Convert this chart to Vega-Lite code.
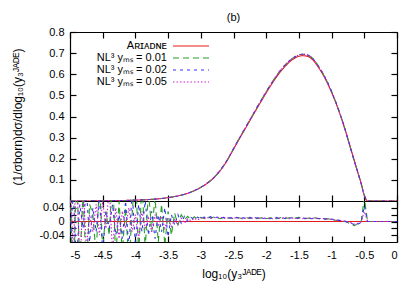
{
  "$schema": "https://vega.github.io/schema/vega-lite/v6.json",
  "padding": {"left": 11, "top": 12, "right": 5, "bottom": 5},
  "spacing": 0,
  "bounds": "flush",
  "config": {
    "font": "Liberation Sans",
    "view": {"stroke": null},
    "axis": {"domainColor": "black", "domainWidth": 1.2, "tickColor": "black", "tickWidth": 1.2, "tickSize": -6, "labelPadding": 11, "labelFontSize": 11, "labelColor": "black", "titleColor": "black", "titleFontSize": 11, "titleFontWeight": "normal", "grid": false, "labelFont": "Liberation Sans", "titleFont": "Liberation Sans"}
  },
  "resolve": {"scale": {"color": "independent", "strokeDash": "independent"}},
  "datasets": {
    "main": [
      {"x": -5.0, "a": 0, "g": 0, "b": 0, "m": 0},
      {"x": -4.9, "a": 0, "g": 0, "b": 0, "m": 0},
      {"x": -4.8, "a": 0.0001, "g": 0.0001, "b": 0.0001, "m": 0.0001},
      {"x": -4.7, "a": 0.0003, "g": 0.0003, "b": 0.0003, "m": 0.0003},
      {"x": -4.6, "a": 0.0005, "g": 0.0005, "b": 0.0005, "m": 0.0005},
      {"x": -4.5, "a": 0.0008, "g": 0.0008, "b": 0.0008, "m": 0.0008},
      {"x": -4.4, "a": 0.0012, "g": 0.0012, "b": 0.0012, "m": 0.0012},
      {"x": -4.3, "a": 0.0017, "g": 0.0017, "b": 0.0017, "m": 0.0017},
      {"x": -4.2, "a": 0.0023, "g": 0.0023, "b": 0.0023, "m": 0.0023},
      {"x": -4.1, "a": 0.003, "g": 0.003, "b": 0.003, "m": 0.003},
      {"x": -4.0, "a": 0.004, "g": 0.004, "b": 0.004, "m": 0.004},
      {"x": -3.9, "a": 0.0052, "g": 0.0052, "b": 0.0052, "m": 0.0052},
      {"x": -3.8, "a": 0.0068, "g": 0.0068, "b": 0.0068, "m": 0.0068},
      {"x": -3.7, "a": 0.009, "g": 0.009, "b": 0.009, "m": 0.009},
      {"x": -3.6, "a": 0.012, "g": 0.012, "b": 0.012, "m": 0.012},
      {"x": -3.5, "a": 0.016, "g": 0.016, "b": 0.016, "m": 0.016},
      {"x": -3.4, "a": 0.021, "g": 0.021, "b": 0.021, "m": 0.021},
      {"x": -3.3, "a": 0.028, "g": 0.028, "b": 0.028, "m": 0.028},
      {"x": -3.2, "a": 0.037, "g": 0.037, "b": 0.037, "m": 0.037},
      {"x": -3.1, "a": 0.049, "g": 0.049, "b": 0.049, "m": 0.049},
      {"x": -3.0, "a": 0.064, "g": 0.065, "b": 0.065, "m": 0.065},
      {"x": -2.9, "a": 0.084, "g": 0.085, "b": 0.085, "m": 0.085},
      {"x": -2.8, "a": 0.110, "g": 0.111, "b": 0.111, "m": 0.111},
      {"x": -2.7, "a": 0.145, "g": 0.146, "b": 0.147, "m": 0.146},
      {"x": -2.6, "a": 0.190, "g": 0.192, "b": 0.192, "m": 0.192},
      {"x": -2.5, "a": 0.245, "g": 0.247, "b": 0.248, "m": 0.247},
      {"x": -2.4, "a": 0.300, "g": 0.303, "b": 0.303, "m": 0.303},
      {"x": -2.3, "a": 0.353, "g": 0.357, "b": 0.356, "m": 0.357},
      {"x": -2.2, "a": 0.407, "g": 0.411, "b": 0.411, "m": 0.411},
      {"x": -2.1, "a": 0.460, "g": 0.465, "b": 0.465, "m": 0.464},
      {"x": -2.0, "a": 0.512, "g": 0.517, "b": 0.517, "m": 0.517},
      {"x": -1.9, "a": 0.561, "g": 0.567, "b": 0.566, "m": 0.566},
      {"x": -1.8, "a": 0.605, "g": 0.611, "b": 0.611, "m": 0.611},
      {"x": -1.7, "a": 0.641, "g": 0.647, "b": 0.647, "m": 0.647},
      {"x": -1.6, "a": 0.669, "g": 0.675, "b": 0.675, "m": 0.675},
      {"x": -1.5, "a": 0.685, "g": 0.692, "b": 0.692, "m": 0.691},
      {"x": -1.45, "a": 0.688, "g": 0.695, "b": 0.695, "m": 0.694},
      {"x": -1.4, "a": 0.687, "g": 0.694, "b": 0.693, "m": 0.694},
      {"x": -1.3, "a": 0.672, "g": 0.678, "b": 0.678, "m": 0.678},
      {"x": -1.2, "a": 0.632, "g": 0.638, "b": 0.638, "m": 0.637},
      {"x": -1.1, "a": 0.580, "g": 0.585, "b": 0.586, "m": 0.585},
      {"x": -1.0, "a": 0.514, "g": 0.518, "b": 0.518, "m": 0.517},
      {"x": -0.9, "a": 0.436, "g": 0.438, "b": 0.438, "m": 0.437},
      {"x": -0.8, "a": 0.344, "g": 0.344, "b": 0.345, "m": 0.344},
      {"x": -0.7, "a": 0.240, "g": 0.238, "b": 0.239, "m": 0.239},
      {"x": -0.6, "a": 0.136, "g": 0.135, "b": 0.135, "m": 0.136},
      {"x": -0.55, "a": 0.085, "g": 0.085, "b": 0.085, "m": 0.085},
      {"x": -0.5, "a": 0.026, "g": 0.028, "b": 0.027, "m": 0.027},
      {"x": -0.45, "a": 0, "g": 0, "b": 0, "m": 0},
      {"x": -0.4, "a": 0, "g": 0, "b": 0, "m": 0},
      {"x": -0.3, "a": 0, "g": 0, "b": 0, "m": 0},
      {"x": -0.2, "a": 0, "g": 0, "b": 0, "m": 0},
      {"x": -0.1, "a": 0, "g": 0, "b": 0, "m": 0},
      {"x": 0.0, "a": 0, "g": 0, "b": 0, "m": 0}
    ],
    "ratio": [
      {"x": -5.0, "a": 0, "g": 0.10, "b": -0.05, "m": 0.15},
      {"x": -4.95, "a": 0, "g": -0.20, "b": 0.08, "m": -0.10},
      {"x": -4.9, "a": 0, "g": 0.15, "b": -0.12, "m": 0.20},
      {"x": -4.85, "a": 0, "g": -0.12, "b": 0.05, "m": -0.18},
      {"x": -4.8, "a": 0, "g": 0.08, "b": -0.02, "m": 0.12},
      {"x": -4.75, "a": 0, "g": -0.15, "b": 0.10, "m": -0.08},
      {"x": -4.7, "a": 0, "g": 0.05, "b": -0.06, "m": 0.02},
      {"x": -4.65, "a": 0, "g": 0.02, "b": 0.04, "m": -0.03},
      {"x": -4.6, "a": 0, "g": -0.10, "b": -0.03, "m": 0.05},
      {"x": -4.55, "a": 0, "g": 0.12, "b": 0.07, "m": -0.04},
      {"x": -4.5, "a": 0, "g": -0.08, "b": -0.09, "m": 0.06},
      {"x": -4.45, "a": 0, "g": 0.03, "b": 0.03, "m": -0.02},
      {"x": -4.4, "a": 0, "g": -0.04, "b": -0.02, "m": 0.10},
      {"x": -4.35, "a": 0, "g": 0.14, "b": 0.05, "m": -0.09},
      {"x": -4.3, "a": 0, "g": -0.11, "b": -0.04, "m": 0.04},
      {"x": -4.25, "a": 0, "g": 0.06, "b": 0.02, "m": -0.05},
      {"x": -4.2, "a": 0, "g": -0.09, "b": -0.05, "m": 0.03},
      {"x": -4.15, "a": 0, "g": 0.04, "b": 0.06, "m": -0.02},
      {"x": -4.1, "a": 0, "g": -0.12, "b": -0.08, "m": 0.04},
      {"x": -4.05, "a": 0, "g": 0.02, "b": 0.09, "m": -0.03},
      {"x": -4.0, "a": 0, "g": 0.16, "b": -0.07, "m": 0.02},
      {"x": -3.95, "a": 0, "g": -0.10, "b": 0.05, "m": -0.05},
      {"x": -3.9, "a": 0, "g": 0.12, "b": -0.03, "m": 0.03},
      {"x": -3.85, "a": 0, "g": -0.08, "b": 0.06, "m": -0.02},
      {"x": -3.8, "a": 0, "g": 0.09, "b": -0.04, "m": 0.01},
      {"x": -3.75, "a": 0, "g": -0.03, "b": 0.03, "m": -0.03},
      {"x": -3.7, "a": 0, "g": 0.07, "b": -0.05, "m": 0.02},
      {"x": -3.65, "a": 0, "g": -0.06, "b": 0.02, "m": -0.01},
      {"x": -3.6, "a": 0, "g": 0.05, "b": -0.03, "m": 0.015},
      {"x": -3.55, "a": 0, "g": -0.07, "b": 0.04, "m": -0.02},
      {"x": -3.5, "a": 0, "g": 0.03, "b": -0.045, "m": 0.01},
      {"x": -3.45, "a": 0, "g": -0.04, "b": 0.02, "m": -0.015},
      {"x": -3.4, "a": 0, "g": 0.025, "b": -0.01, "m": 0.005},
      {"x": -3.35, "a": 0, "g": -0.01, "b": 0.02, "m": -0.01},
      {"x": -3.3, "a": 0, "g": 0.02, "b": -0.005, "m": 0.01},
      {"x": -3.25, "a": 0, "g": 0.005, "b": 0.015, "m": -0.005},
      {"x": -3.2, "a": 0, "g": 0.015, "b": 0.0, "m": 0.008},
      {"x": -3.15, "a": 0, "g": 0.004, "b": 0.012, "m": 0.002},
      {"x": -3.1, "a": 0, "g": 0.014, "b": 0.006, "m": 0.01},
      {"x": -3.05, "a": 0, "g": 0.006, "b": 0.013, "m": 0.004},
      {"x": -3.0, "a": 0, "g": 0.012, "b": 0.008, "m": 0.011},
      {"x": -2.95, "a": 0, "g": 0.009, "b": 0.013, "m": 0.008},
      {"x": -2.9, "a": 0, "g": 0.015, "b": 0.010, "m": 0.012},
      {"x": -2.85, "a": 0, "g": 0.010, "b": 0.014, "m": 0.009},
      {"x": -2.8, "a": 0, "g": 0.013, "b": 0.009, "m": 0.012},
      {"x": -2.75, "a": 0, "g": 0.011, "b": 0.013, "m": 0.010},
      {"x": -2.7, "a": 0, "g": 0.008, "b": 0.010, "m": 0.013},
      {"x": -2.65, "a": 0, "g": 0.012, "b": 0.012, "m": 0.009},
      {"x": -2.6, "a": 0, "g": 0.009, "b": 0.008, "m": 0.011},
      {"x": -2.55, "a": 0, "g": 0.011, "b": 0.011, "m": 0.010},
      {"x": -2.5, "a": 0, "g": 0.008, "b": 0.009, "m": 0.012},
      {"x": -2.45, "a": 0, "g": 0.012, "b": 0.012, "m": 0.009},
      {"x": -2.4, "a": 0, "g": 0.010, "b": 0.008, "m": 0.011},
      {"x": -2.35, "a": 0, "g": 0.007, "b": 0.011, "m": 0.008},
      {"x": -2.3, "a": 0, "g": 0.011, "b": 0.009, "m": 0.011},
      {"x": -2.25, "a": 0, "g": 0.009, "b": 0.012, "m": 0.009},
      {"x": -2.2, "a": 0, "g": 0.012, "b": 0.008, "m": 0.010},
      {"x": -2.15, "a": 0, "g": 0.008, "b": 0.010, "m": 0.012},
      {"x": -2.1, "a": 0, "g": 0.010, "b": 0.012, "m": 0.008},
      {"x": -2.05, "a": 0, "g": 0.011, "b": 0.009, "m": 0.011},
      {"x": -2.0, "a": 0, "g": 0.008, "b": 0.011, "m": 0.009},
      {"x": -1.95, "a": 0, "g": 0.010, "b": 0.008, "m": 0.010},
      {"x": -1.9, "a": 0, "g": 0.012, "b": 0.010, "m": 0.008},
      {"x": -1.85, "a": 0, "g": 0.008, "b": 0.012, "m": 0.011},
      {"x": -1.8, "a": 0, "g": 0.010, "b": 0.009, "m": 0.009},
      {"x": -1.75, "a": 0, "g": 0.013, "b": 0.011, "m": 0.010},
      {"x": -1.7, "a": 0, "g": 0.009, "b": 0.008, "m": 0.012},
      {"x": -1.65, "a": 0, "g": 0.011, "b": 0.010, "m": 0.008},
      {"x": -1.6, "a": 0, "g": 0.008, "b": 0.011, "m": 0.010},
      {"x": -1.55, "a": 0, "g": 0.010, "b": 0.009, "m": 0.009},
      {"x": -1.5, "a": 0, "g": 0.012, "b": 0.010, "m": 0.011},
      {"x": -1.45, "a": 0, "g": 0.009, "b": 0.012, "m": 0.008},
      {"x": -1.4, "a": 0, "g": 0.008, "b": 0.009, "m": 0.010},
      {"x": -1.35, "a": 0, "g": 0.010, "b": 0.010, "m": 0.009},
      {"x": -1.3, "a": 0, "g": 0.009, "b": 0.008, "m": 0.011},
      {"x": -1.25, "a": 0, "g": 0.011, "b": 0.010, "m": 0.008},
      {"x": -1.2, "a": 0, "g": 0.008, "b": 0.009, "m": 0.010},
      {"x": -1.15, "a": 0, "g": 0.009, "b": 0.007, "m": 0.008},
      {"x": -1.1, "a": 0, "g": 0.007, "b": 0.008, "m": 0.009},
      {"x": -1.05, "a": 0, "g": 0.008, "b": 0.006, "m": 0.007},
      {"x": -1.0, "a": 0, "g": 0.006, "b": 0.007, "m": 0.006},
      {"x": -0.95, "a": 0, "g": 0.004, "b": 0.005, "m": 0.005},
      {"x": -0.9, "a": 0, "g": 0.003, "b": 0.004, "m": 0.003},
      {"x": -0.85, "a": 0, "g": 0.002, "b": 0.002, "m": 0.003},
      {"x": -0.8, "a": 0, "g": 0.000, "b": 0.001, "m": 0.001},
      {"x": -0.75, "a": 0, "g": -0.003, "b": -0.002, "m": -0.001},
      {"x": -0.7, "a": 0, "g": -0.008, "b": -0.005, "m": -0.004},
      {"x": -0.65, "a": 0, "g": -0.012, "b": -0.010, "m": -0.008},
      {"x": -0.6, "a": 0, "g": -0.006, "b": -0.008, "m": -0.005},
      {"x": -0.55, "a": 0, "g": -0.004, "b": -0.003, "m": -0.002},
      {"x": -0.5, "a": 0, "g": 0.070, "b": 0.045, "m": 0.030},
      {"x": -0.45, "a": 0, "g": 0, "b": 0, "m": 0},
      {"x": -0.4, "a": 0, "g": 0, "b": 0, "m": 0},
      {"x": -0.3, "a": 0, "g": 0, "b": 0, "m": 0},
      {"x": -0.2, "a": 0, "g": 0, "b": 0, "m": 0},
      {"x": -0.1, "a": 0, "g": 0, "b": 0, "m": 0},
      {"x": 0.0, "a": 0, "g": 0, "b": 0, "m": 0}
    ]
  },
  "vconcat": [
    {
      "width": 327,
      "height": 169,
      "title": {"text": "(b)", "anchor": "middle", "frame": "group", "fontSize": 11, "fontWeight": "normal", "offset": 3, "font": "Liberation Sans", "color": "black"},
      "data": {"name": "main"},
      "transform": [{"fold": ["a", "g", "b", "m"], "as": ["s", "v"]}],
      "layer": [
        {
          "mark": {"type": "line", "strokeWidth": 1.1, "interpolate": "monotone"},
          "encoding": {
            "x": {"field": "x", "type": "quantitative", "scale": {"domain": [-5, 0], "nice": false, "zero": false}, "axis": {"orient": "bottom", "values": [-5, -4.5, -4, -3.5, -3, -2.5, -2, -1.5, -1, -0.5, 0], "labels": false, "title": null}},
            "y": {"field": "v", "type": "quantitative", "scale": {"domain": [0, 0.8], "nice": false}, "axis": {"orient": "left", "values": [0.1, 0.2, 0.3, 0.4, 0.5, 0.6, 0.7, 0.8], "labelExpr": "'' + datum.value", "labelPadding": 12, "title": "(1/σborn)dσ/dlog₁₀(y₃ᴶᴬᴰᴱ)", "titleFontSize": 12, "titlePadding": 24}},
            "color": {"field": "s", "type": "nominal", "scale": {"domain": ["a", "g", "b", "m"], "range": ["#e41a1c", "#22a022", "#3333ee", "#cc22cc"]},
              "legend": {"orient": "none", "legendX": 5, "legendY": 7, "title": null, "padding": 0, "labelAlign": "right", "labelOffset": -31, "symbolOffset": 109, "symbolType": "M-3,0L3,0", "symbolSize": 144, "symbolStrokeWidth": 1.2, "labelFontSize": 11, "labelFont": "Liberation Sans", "labelColor": "black", "rowPadding": 0, "labelExpr": "datum.label == 'a' ? 'Aʀɪᴀᴅɴᴇ' : datum.label == 'g' ? 'NL³ yₘₛ = 0.01' : datum.label == 'b' ? 'NL³ yₘₛ = 0.02' : 'NL³ yₘₛ = 0.05'"}},
            "strokeDash": {"field": "s", "type": "nominal", "scale": {"domain": ["a", "g", "b", "m"], "range": [[1, 0], [6, 4], [3, 4], [1.5, 2]]},
              "legend": {"orient": "none", "legendX": 5, "legendY": 7, "title": null, "padding": 0, "labelAlign": "right", "labelOffset": -31, "symbolOffset": 109, "symbolType": "M-3,0L3,0", "symbolSize": 144, "symbolStrokeWidth": 1.2, "labelFontSize": 11, "labelFont": "Liberation Sans", "labelColor": "black", "rowPadding": 0, "labelExpr": "datum.label == 'a' ? 'Aʀɪᴀᴅɴᴇ' : datum.label == 'g' ? 'NL³ yₘₛ = 0.01' : datum.label == 'b' ? 'NL³ yₘₛ = 0.02' : 'NL³ yₘₛ = 0.05'"}}
          }
        },
        {
          "mark": {"type": "line", "opacity": 0},
          "encoding": {
            "x": {"field": "x", "type": "quantitative", "axis": {"orient": "top", "values": [-5, -4.5, -4, -3.5, -3, -2.5, -2, -1.5, -1, -0.5, 0], "labels": false, "title": null}},
            "y": {"field": "v", "type": "quantitative", "axis": {"orient": "right", "values": [0.1, 0.2, 0.3, 0.4, 0.5, 0.6, 0.7, 0.8], "labels": false, "title": null}}
          }
        }
      ],
      "resolve": {"axis": {"x": "independent", "y": "independent"}}
    },
    {
      "width": 327,
      "height": 41,
      "data": {"name": "ratio"},
      "transform": [{"fold": ["a", "g", "b", "m"], "as": ["s", "v"]}],
      "layer": [
        {
          "mark": {"type": "line", "strokeWidth": 1.1, "clip": true},
          "encoding": {
            "x": {"field": "x", "type": "quantitative", "scale": {"domain": [-5, 0], "nice": false, "zero": false}, "axis": {"orient": "bottom", "values": [-5, -4.5, -4, -3.5, -3, -2.5, -2, -1.5, -1, -0.5, 0], "labelExpr": "'' + datum.value", "labelPadding": 13, "title": "log₁₀(y₃ᴶᴬᴰᴱ)", "titleFontSize": 12, "titlePadding": 8}},
            "y": {"field": "v", "type": "quantitative", "scale": {"domain": [-0.06, 0.06], "nice": false}, "axis": {"orient": "left", "values": [-0.04, -0.02, 0, 0.02, 0.04], "labelExpr": "abs(datum.value) == 0.02 ? '' : '' + datum.value", "labelPadding": 12, "title": null}},
            "color": {"field": "s", "type": "nominal", "scale": {"domain": ["a", "g", "b", "m"], "range": ["#e41a1c", "#22a022", "#3333ee", "#cc22cc"]}, "legend": null},
            "strokeDash": {"field": "s", "type": "nominal", "scale": {"domain": ["a", "g", "b", "m"], "range": [[1, 0], [6, 4], [3, 4], [1.5, 2]]}, "legend": null}
          }
        },
        {
          "mark": {"type": "line", "opacity": 0},
          "encoding": {
            "x": {"field": "x", "type": "quantitative", "axis": {"orient": "top", "values": [-5, -4.5, -4, -3.5, -3, -2.5, -2, -1.5, -1, -0.5, 0], "labels": false, "title": null}},
            "y": {"field": "v", "type": "quantitative", "axis": {"orient": "right", "values": [-0.04, -0.02, 0, 0.02, 0.04], "labels": false, "title": null}}
          }
        }
      ],
      "resolve": {"axis": {"x": "independent", "y": "independent"}}
    }
  ]
}
